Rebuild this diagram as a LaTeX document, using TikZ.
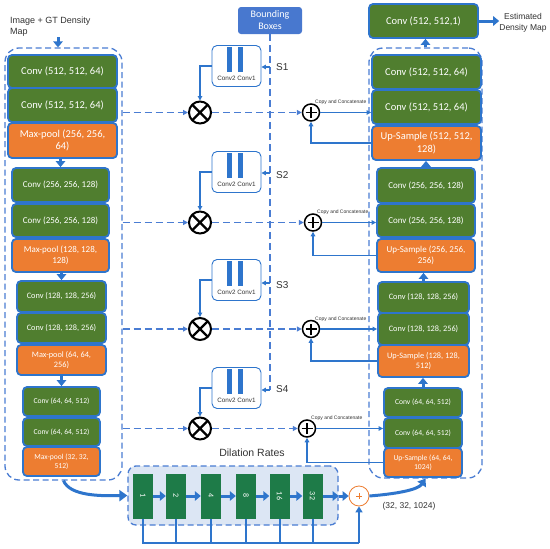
\documentclass[tikz,border=0pt]{standalone}
\usepackage{fontspec}
\setmainfont{Liberation Sans}
\newfontfamily\carl{Carlito}
\usetikzlibrary{arrows.meta,calc}
\definecolor{cblue}{HTML}{2E75CC}
\definecolor{dblue}{HTML}{4A7DD3}
\definecolor{cgreen}{HTML}{507E2F}
\definecolor{corange}{HTML}{ED7D31}
\definecolor{dgreen}{HTML}{1E7B48}
\definecolor{panelc}{HTML}{DCE6F4}
\definecolor{bbox}{HTML}{4878CF}
\definecolor{txt}{HTML}{333333}
\begin{document}
\begin{tikzpicture}[x=1pt,y=-1pt,
  lay/.style={draw=cblue,line width=1.8pt,rounded corners=4pt,text=white,inner sep=1pt,align=center},
  gbox/.style={lay,fill=cgreen},
  obox/.style={lay,fill=corange},
  fA/.style={font=\carl\fontsize{10.5}{12.5}\selectfont},
  fB/.style={font=\carl\fontsize{9}{11}\selectfont},
  fC/.style={font=\carl\fontsize{8.3}{10}\selectfont},
  fD/.style={font=\carl\fontsize{7.6}{9.2}\selectfont},
  cont/.style={draw=dblue,line width=1.3pt,dash pattern=on 6pt off 3.5pt,rounded corners=14pt},
  bigarrow/.style={draw=cblue,line width=3pt,-{Triangle[length=6pt,width=9.5pt]}},
  sarrow/.style={draw=cblue,line width=1.2pt,-{Triangle[length=4.5pt,width=4.5pt]}},
  darrow/.style={draw=dblue,line width=1.3pt,dash pattern=on 7pt off 4pt,-{Triangle[length=5pt,width=5pt]}},
  dline/.style={draw=dblue,line width=1.3pt,dash pattern=on 7pt off 4pt},
  bline/.style={draw=cblue,line width=2pt},
  otimes/.style={circle,draw=black,line width=2pt,fill=white,minimum size=22pt,inner sep=0pt,
    path picture={\draw[line width=2.4pt] (path picture bounding box.north west) -- (path picture bounding box.south east)
      (path picture bounding box.north east) -- (path picture bounding box.south west);}},
  oplus/.style={circle,draw=black,line width=1.5pt,fill=white,minimum size=17pt,inner sep=0pt,
    path picture={\draw[line width=1.9pt] ([xshift=-5.5pt]path picture bounding box.center) -- ([xshift=5.5pt]path picture bounding box.center)
      ([yshift=-5.5pt]path picture bounding box.center) -- ([yshift=5.5pt]path picture bounding box.center);}},
  sblk/.style={draw=cblue,line width=0.9pt,rounded corners=5pt,fill=white,minimum width=49pt,minimum height=41pt,inner sep=0pt},
  cc/.style={font=\fontsize{5}{6}\selectfont,text=txt,inner sep=0pt},
  slab/.style={font=\fontsize{10}{12}\selectfont,text=txt,inner sep=0pt},
  dil/.style={fill=dgreen,minimum width=20pt,minimum height=45pt,inner sep=0pt,text=white,font=\carl\fontsize{8}{9}\selectfont},
]
\useasboundingbox (0,0) rectangle (550,549);
\fill[white] (0,0) rectangle (550,549);

% containers
\node[cont,minimum width=117pt,minimum height=432pt] (LC) at (63.5,264) {};
\node[cont,minimum width=113pt,minimum height=430pt] (RC) at (425.5,263) {};

% left encoder
\node[gbox,fA,minimum width=109pt,minimum height=33pt] (L1) at (62.5,71.5) {Conv (512, 512, 64)};
\node[gbox,fA,minimum width=109pt,minimum height=34pt] (L2) at (62.5,105) {Conv (512, 512, 64)};
\node[obox,fA,minimum width=109pt,minimum height=35pt] (L3) at (62.5,140.5) {Max-pool (256, 256,\\64)};
\node[gbox,fB,minimum width=97pt,minimum height=34pt] (L4) at (60.5,185) {Conv (256, 256, 128)};
\node[gbox,fB,minimum width=97pt,minimum height=33pt] (L5) at (60.5,220.5) {Conv (256, 256, 128)};
\node[obox,fB,minimum width=97pt,minimum height=33pt] (L6) at (60.5,255.5) {Max-pool (128, 128,\\128)};
\node[gbox,fC,minimum width=89pt,minimum height=31pt] (L7) at (61.5,296.5) {Conv (128, 128, 256)};
\node[gbox,fC,minimum width=89pt,minimum height=30pt] (L8) at (61.5,328) {Conv (128, 128, 256)};
\node[obox,fC,minimum width=89pt,minimum height=30pt] (L9) at (61.5,360) {Max-pool (64, 64,\\256)};
\node[gbox,fD,minimum width=77pt,minimum height=29pt] (L10) at (61.5,401.5) {Conv (64, 64, 512)};
\node[gbox,fD,minimum width=77pt,minimum height=28pt] (L11) at (61.5,432) {Conv (64, 64, 512)};
\node[obox,fD,minimum width=77pt,minimum height=29pt] (L12) at (61.5,461.5) {Max-pool (32, 32,\\512)};

% right decoder
\node[gbox,fA,minimum width=109pt,minimum height=34pt] (T) at (423.5,21) {Conv (512, 512,1)};
\node[gbox,fA,minimum width=109pt,minimum height=34pt] (R1) at (426.5,72) {Conv (512, 512, 64)};
\node[gbox,fA,minimum width=109pt,minimum height=34pt] (R2) at (426.5,107) {Conv (512, 512, 64)};
\node[obox,fA,minimum width=109pt,minimum height=34pt] (R3) at (426.5,143) {Up-Sample (512, 512,\\128)};
\node[gbox,fB,minimum width=98pt,minimum height=35pt] (R4) at (426,185.5) {Conv (256, 256, 128)};
\node[gbox,fB,minimum width=98pt,minimum height=33pt] (R5) at (426,220.5) {Conv (256, 256, 128)};
\node[obox,fB,minimum width=98pt,minimum height=33pt] (R6) at (426,255.5) {Up-Sample (256, 256,\\256)};
\node[gbox,fC,minimum width=91pt,minimum height=31pt] (R7) at (423.5,297.5) {Conv (128, 128, 256)};
\node[gbox,fC,minimum width=91pt,minimum height=32pt] (R8) at (423.5,329) {Conv (128, 128, 256)};
\node[obox,fC,minimum width=91pt,minimum height=32pt] (R9) at (423.5,361) {Up-Sample (128, 128,\\512)};
\node[gbox,fD,minimum width=78pt,minimum height=29pt] (R10) at (423,402.5) {Conv (64, 64, 512)};
\node[gbox,fD,minimum width=78pt,minimum height=30pt] (R11) at (423,433) {Conv (64, 64, 512)};
\node[obox,fD,minimum width=78pt,minimum height=29pt] (R12) at (423,462.5) {Up-Sample (64, 64,\\1024)};

% top labels
\node[anchor=north west,align=left,inner sep=0pt,text=txt,font=\fontsize{9}{11}\selectfont] (IT) at (10,17) {Image + GT Density\\Map};
\coordinate (ia) at (58,37);
\draw[bigarrow] (ia) -- (ia |- LC.north);
\node[align=center,inner sep=0pt,text=txt,font=\fontsize{8.5}{11.5}\selectfont] (EDM) at (523,23) {Estimated\\Density Map};
\draw[bigarrow] (T.east) -- (T.east -| EDM.west);
\draw[bigarrow] (RC.north) -- (RC.north |- T.south);

% stage arrows
\draw[bigarrow] (L4.north |- L3.south) -- (L4.north);
\draw[bigarrow] (L7.north |- L6.south) -- (L7.north);
\draw[bigarrow] (L10.north |- L9.south) -- (L10.north);
\draw[bigarrow] (R4.north) -- (R4.north |- R3.south);
\draw[bigarrow] (R7.north) -- (R7.north |- R6.south);
\draw[bigarrow] (R10.north) -- (R10.north |- R9.south);

% bounding boxes
\node[fill=bbox,rounded corners=3pt,minimum width=64pt,minimum height=27pt,inner sep=0pt,align=center,text=white,font=\carl\fontsize{10}{12}\selectfont] (BB) at (270,20.5) {Bounding\\Boxes};
\coordinate (V1) at (270,67);
\coordinate (V2) at (270,173);
\coordinate (V3) at (270,283);
\coordinate (V4) at (270,390);
\draw[dline] (BB.south) -- (V4);

% skip branches
\foreach \i/\by/\xy/\py/\sy in {1/66/112.5/311/67, 2/172/222.5/313/175, 3/280/329/311/285, 4/388/428.5/307/389}{
  \node[sblk] (B\i) at (236.5,\by) {};
  \fill[cblue] (227,\by-19) rectangle (232,\by+6);
  \fill[cblue] (238,\by-19) rectangle (243,\by+6);
  \node[inner sep=0pt,text=txt,font=\fontsize{6.3}{7}\selectfont] at (236.5,\by+12) {Conv2 Conv1};
  \node[slab,anchor=west] at (276,\sy) {S\i};
  \node[otimes] (X\i) at (200,\xy) {};
  \node[oplus] (P\i) at (\py,\xy) {};
  \draw[sarrow] (V\i) -- (V\i -| B\i.east);
  \draw[sarrow] (B\i.west) -| (X\i.north);
  \draw[darrow] (X\i -| LC.east) -- (X\i.west);
  \draw[darrow] (X\i.east) -- (P\i.west);
  \node[cc,anchor=west] at ($(P\i.center)+(4,-10)$) {Copy and Concatenate};
}
\draw[sarrow] (P1.east) -- (P1 -| R2.west);
\draw[sarrow] (P2.east) -- (P2 -| R5.west);
\draw[sarrow] (P3.east) -- (P3 -| R8.west);
\draw[sarrow] (P4.east) -- (P4 -| R11.west);
\draw[sarrow] (R3.west) -| (P1.south);
\draw[sarrow] (R6.west) -| (P2.south);
\draw[sarrow] (R9.west) -| (P3.south);
\draw[sarrow] (R12.west) -| (P4.south);

% dilation module
\node[inner sep=0pt,text=txt,font=\fontsize{10.5}{12}\selectfont] (DR) at (252,453) {Dilation Rates};
\node[fill=panelc,draw=dblue,line width=1.3pt,dash pattern=on 6pt off 3.5pt,rounded corners=8pt,minimum width=210pt,minimum height=59pt] (PN) at (233,495.5) {};
\foreach \i/\x/\t in {1/143/1,2/176/2,3/211/4,4/246/8,5/279.5/16,6/312.5/32}{
  \node[dil] (D\i) at (\x,496) {\rotatebox{-90}{\t}};
}
\node[circle,draw=corange,line width=0.8pt,fill=white,minimum size=20pt,inner sep=0pt,
  path picture={\draw[corange,line width=0.6pt] ([xshift=-3pt]path picture bounding box.center) -- ([xshift=3pt]path picture bounding box.center)
      ([yshift=-3pt]path picture bounding box.center) -- ([yshift=3pt]path picture bounding box.center);}] (O) at (359,496) {};
\foreach \a/\b in {1/2,2/3,3/4,4/5,5/6}{
  \draw[bigarrow] (D\a.east) -- (D\b.west);
}
\draw[bigarrow] (D6.east) -- (PN.east |- D6.east);
\draw[bigarrow] (PN.east |- O.west) -- (O.west);
\coordinate (bot) at (0,543);
\draw[bline] (D1.south) |- (bot -| O.south);
\foreach \i in {2,...,6}{ \draw[bline] (D\i.south) -- (D\i.south |- bot); }
\draw[bline,-{Triangle[length=6pt,width=7pt]}] (bot -| O.south) -- (O.south);

\draw[draw=cblue,line width=3pt,-{Triangle[length=8pt,width=11pt]}] (LC.south) .. controls (70,496) and (100,496) .. (PN.west);
\draw[draw=cblue,line width=3pt,-{Triangle[length=7pt,width=10pt]}] (O.east) .. controls (395,494) and (418,490) .. (RC.south);
\node[inner sep=0pt,text=txt,font=\fontsize{8.5}{10}\selectfont] (SZ) at (409,506) {(32, 32, 1024)};
\end{tikzpicture}
\end{document}
